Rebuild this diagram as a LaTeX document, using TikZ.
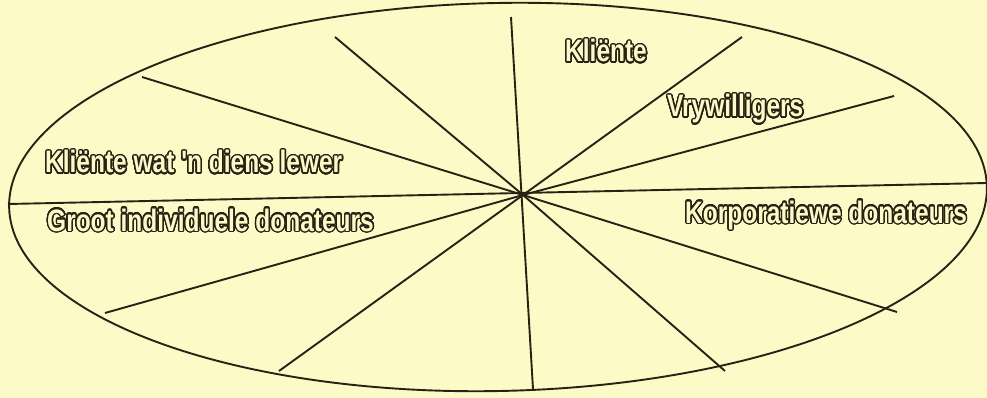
\documentclass[tikz,border=0pt]{standalone}
\usepackage{fontspec}
\newfontfamily\segfont{Liberation Sans}[FakeStretch=0.79]
\usepackage{contour}
\contourlength{1.4pt}
\contournumber{32}
\definecolor{paper}{RGB}{252,250,199}
\definecolor{ink}{RGB}{40,34,20}
\newcommand{\hollow}[1]{\contour{ink}{\textcolor{paper}{#1}}}
\tikzset{
	spoke/.style={ink,line width=1.9pt},
	segtext/.style={font=\segfont\bfseries\fontsize{31}{31}\selectfont,inner sep=0pt,anchor=base west},
}
\begin{document}
\begin{tikzpicture}[x=1pt,y=-1pt]
	\useasboundingbox[fill=paper] (0,0) rectangle (987,398);
	% outer ring
	\draw[spoke] (498,197) ellipse [x radius=489,y radius=194,rotate=1.2];
	% spokes
	\coordinate (hub) at (523,195);
	\coordinate (w)  at (8,204);
	\coordinate (e)  at (987,183);
	\coordinate (n)  at (511,17);
	\coordinate (s)  at (533,389);
	\coordinate (ne) at (742,37);
	\coordinate (ene) at (894,96);
	\coordinate (ese) at (897,312);
	\coordinate (se) at (725,371);
	\coordinate (sw) at (279,371);
	\coordinate (wsw) at (105,313);
	\coordinate (wnw) at (142,77);
	\coordinate (nw) at (335,37);
	\draw[spoke] (w) -- (e);
	\draw[spoke] (n) -- (s);
	\foreach \p in {ne,ene,ese,se,sw,wsw,wnw,nw}
		\draw[spoke] (hub) -- (\p);
	% sector labels
	\node[segtext] (klient) at (565,62)  {\hollow{Kliënte}};
	\node[segtext] (vry)    at (667,117) {\hollow{Vrywilligers}};
	\node[segtext] (diens)  at (45,173)  {\hollow{Kliënte wat 'n diens lewer}};
	\node[segtext] (groot)  at (47,231)  {\hollow{Groot individuele donateurs}};
	\node[segtext] (korp)   at (685,223) {\hollow{Korporatiewe donateurs}};
\end{tikzpicture}
\end{document}
